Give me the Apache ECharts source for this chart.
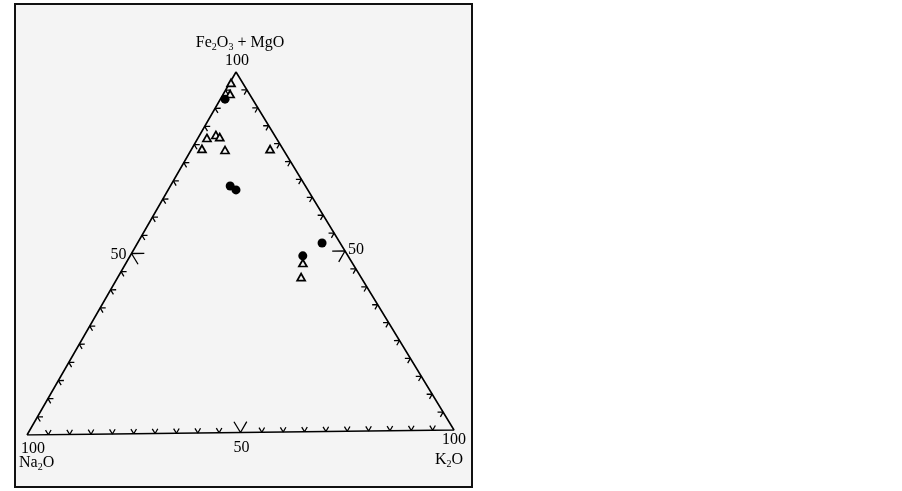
<!DOCTYPE html>
<html>
<head>
<meta charset="utf-8">
<script src="https://cdn.jsdelivr.net/npm/echarts@6/dist/echarts.min.js"></script>
<style>
  html, body { margin: 0; padding: 0; background: #fff; }
  #chart { width: 902px; height: 491px; }
</style>
</head>
<body>
<div id="chart"></div>
<script>
// samples as [Fe2O3+MgO, Na2O, K2O] in %
const triangleSamples = [
  [97.0, 2.7, 0.3],
  [93.9, 4.5, 1.6],
  [82.6, 13.6, 3.8],
  [82.0, 13.0, 5.0],
  [81.8, 16.1, 2.1],
  [78.8, 18.8, 2.4],
  [78.4, 13.6, 8.0],
  [78.5, 3.0, 18.5],
  [46.8, 11.5, 41.7],
  [42.9, 13.9, 43.2]
];
const circleSamples = [
  [92.5, 6.4, 1.1],
  [68.4, 17.5, 14.1],
  [67.3, 16.7, 16.0],
  [52.3, 4.2, 43.5],
  [48.8, 10.5, 40.7]
];
// tick positions along each side (%)
const tickValues = [5, 10, 15, 20, 25, 30, 35, 40, 45, 50, 55, 60, 65, 70, 75, 80, 85, 90, 95];
const labelledTick = 50;

// where the three apexes sit in the (hidden) cartesian axis space
const apexTop = [48.95, 100];   // Fe2O3 + MgO
const apexLeft = [0, 0];        // Na2O
const apexRight = [100, 1.38];  // K2O

function toXY(p) {
  const a = p[0] / 100, b = p[1] / 100, c = p[2] / 100;
  return [
    a * apexTop[0] + b * apexLeft[0] + c * apexRight[0],
    a * apexTop[1] + b * apexLeft[1] + c * apexRight[1]
  ];
}

// chevron ticks: vertex on the side, two arms along the grid directions
const tickLines = [];
tickValues.forEach(t => {
  const d = t === labelledTick ? 3.0 : 1.3;
  // base (Fe = 0)
  tickLines.push(toXY([d, 100 - t, t - d]), toXY([0, 100 - t, t]), toXY([d, 100 - t - d, t]), [null, null]);
  // left side (K = 0)
  tickLines.push(toXY([t, 100 - t - d, d]), toXY([t, 100 - t, 0]), toXY([t - d, 100 - t, d]), [null, null]);
  // right side (Na = 0)
  tickLines.push(toXY([t, d, 100 - t - d]), toXY([t, 0, 100 - t]), toXY([t - d, d, 100 - t]), [null, null]);
});

const outline = [[0, 100, 0], [0, 0, 100], [100, 0, 0], [0, 100, 0]].map(toXY);

const font = 'Liberation Serif';
const rich = {
  n: { fontFamily: font, fontSize: 16, color: '#000', lineHeight: 18 },
  s: { fontFamily: font, fontSize: 10, color: '#000', lineHeight: 18, verticalAlign: 'bottom', padding: [6, 0, 0, 0] }
};

const textMarks = [
  { value: toXY([100, 0, 0]), text: '{n|Fe}{s|2}{n|O}{s|3}{n| + MgO}', offset: [4, -29], align: 'center' },
  { value: toXY([100, 0, 0]), text: '{n|100}', offset: [1, -11], align: 'center' },
  { value: toXY([0, 100, 0]), text: '{n|100}', offset: [-6, 14], align: 'left' },
  { value: toXY([0, 100, 0]), text: '{n|Na}{s|2}{n|O}', offset: [-8, 28], align: 'left' },
  { value: toXY([0, 0, 100]), text: '{n|100}', offset: [12, 10], align: 'right' },
  { value: toXY([0, 0, 100]), text: '{n|K}{s|2}{n|O}', offset: [9, 30], align: 'right' },
  { value: toXY([0, 100 - labelledTick, labelledTick]), text: '{n|50}', offset: [1, 15], align: 'center' },
  { value: toXY([labelledTick, 100 - labelledTick, 0]), text: '{n|50}', offset: [-5, 1], align: 'right' },
  { value: toXY([labelledTick, 0, 100 - labelledTick]), text: '{n|50}', offset: [3, -1], align: 'left' }
];

const chart = echarts.init(document.getElementById('chart'));
chart.setOption({
  animation: false,
  backgroundColor: '#ffffff',
  graphic: [{
    type: 'rect',
    z: -10,
    shape: { x: 15, y: 4, width: 457, height: 483 },
    style: { fill: '#f4f4f4', stroke: '#111', lineWidth: 2 }
  }],
  grid: { left: 27, right: 448, top: 72, bottom: 56 },
  xAxis: { type: 'value', min: 0, max: 100, show: false },
  yAxis: { type: 'value', min: 0, max: 100, show: false },
  series: [
    {
      type: 'line',
      data: outline,
      symbol: 'none',
      lineStyle: { color: '#000', width: 1.6 },
      silent: true
    },
    {
      type: 'line',
      data: tickLines,
      symbol: 'none',
      connectNulls: false,
      lineStyle: { color: '#000', width: 1.3 },
      silent: true
    },
    {
      type: 'scatter',
      data: triangleSamples.map(toXY),
      symbol: 'triangle',
      symbolSize: [8, 7],
      itemStyle: { color: '#f4f4f4', borderColor: '#000', borderWidth: 1.7, opacity: 1 },
      z: 4
    },
    {
      type: 'scatter',
      data: circleSamples.map(toXY),
      symbol: 'circle',
      symbolSize: 9,
      itemStyle: { color: '#000', opacity: 1 },
      z: 5
    },
    {
      type: 'scatter',
      data: textMarks.map(m => ({
        value: m.value,
        label: { formatter: m.text, offset: m.offset, align: m.align }
      })),
      symbolSize: 0,
      silent: true,
      itemStyle: { opacity: 1 },
      label: { show: true, position: 'inside', color: '#000', rich: rich },
      z: 6
    }
  ]
});
</script>
</body>
</html>
